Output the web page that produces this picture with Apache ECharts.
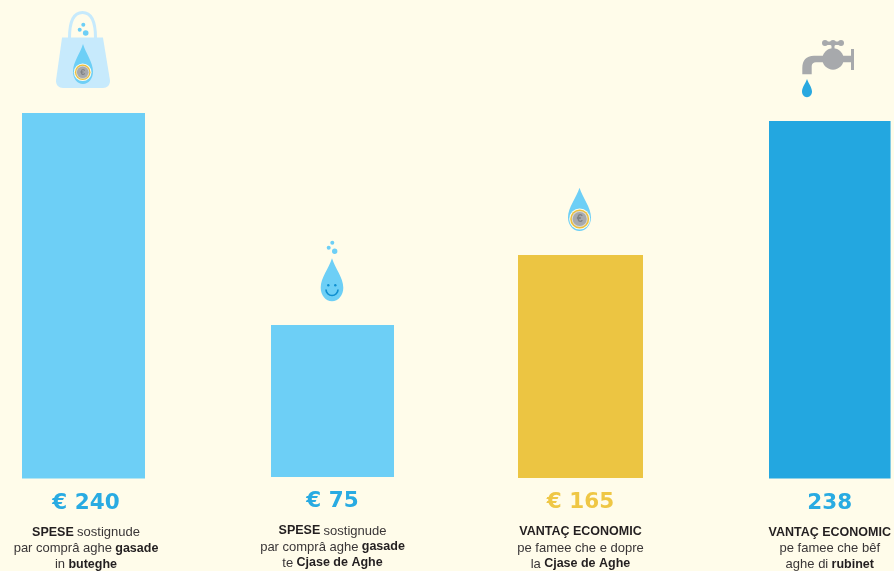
<!DOCTYPE html>
<html>
<head>
<meta charset="utf-8">
<style>
html,body{margin:0;padding:0;background:#fffcea;}
#chart{width:894px;height:571px;}
</style>
<script src="https://cdn.jsdelivr.net/npm/echarts@6/dist/echarts.min.js"></script>
</head>
<body>
<div id="chart"></div>
<script>
// printed amounts
var valueLabels=['€ 240','€ 75','€ 165','238'];
// bar lengths, they are not proportional to the printed amounts
var barLengths=[240,99.7,146.2,234.8];
var captions=[
    '{b|SPESE} {n|sostignude}\n{n|par comprâ aghe} {b|gasade}\n{n|in} {b|buteghe}',
    '{b|SPESE} {n|sostignude}\n{n|par comprâ aghe} {b|gasade}\n{n|te} {b|Cjase de Aghe}',
    '{b|VANTAÇ ECONOMIC}\n{n|pe famee che e dopre}\n{n|la} {b|Cjase de Aghe}',
    '{b|VANTAÇ ECONOMIC}\n{n|pe famee che bêf}\n{n|aghe di} {b|rubinet}'
];

var barColors=['#6dcff6','#6dcff6','#ecc542','#23a7e0'];
var valueColors=['#29abe2','#29abe2','#efc745','#29abe2'];
var panels=[
    {left:22,width:123,base:479,pad:5},
    {left:271,width:123,base:477,pad:0},
    {left:518,width:125,base:478,pad:0},
    {left:769,width:123,base:479,pad:0}
];
var yMax=250,pxPerUnit=1.525;

var grids=[],xAxes=[],yAxes=[],series=[];
panels.forEach(function(p,i){
    grids.push({left:p.left,width:p.width,top:p.base-yMax*pxPerUnit,height:yMax*pxPerUnit});
    xAxes.push({
        type:'category',gridIndex:i,data:[valueLabels[i]],
        axisLine:{show:false},axisTick:{show:false},
        axisLabel:{
            interval:0,margin:11,align:'center',verticalAlign:'top',padding:[0,0,0,p.pad],
            formatter:function(v){return '{v|'+v+'}\n{gap|}\n'+captions[i];},
            rich:{
                v:{fontFamily:'DejaVu Sans',fontWeight:'bold',fontSize:21.5,lineHeight:27,color:valueColors[i]},
                gap:{fontSize:6,lineHeight:8},
                b:{fontFamily:'Liberation Sans',fontWeight:'bold',fontSize:12.5,lineHeight:16,color:'#231f20'},
                n:{fontFamily:'Liberation Sans',fontSize:13,lineHeight:16,color:'#3a3637'}
            }
        }
    });
    yAxes.push({type:'value',gridIndex:i,min:0,max:yMax,show:false});
    series.push({
        type:'bar',xAxisIndex:i,yAxisIndex:i,data:[barLengths[i]],
        barWidth:'100%',itemStyle:{color:barColors[i]},silent:true
    });
});

var DROP='M50 0C36 38 0 72 0 110C0 138 22 160 50 160C78 160 100 138 100 110C100 72 64 38 50 0Z';
function drop(x,y,w,h,color){
    return {type:'path',shape:{pathData:DROP,layout:'cover',x:x,y:y,width:w,height:h},style:{fill:color}};
}
function dot(x,y,r,color){
    return {type:'circle',shape:{cx:x,cy:y,r:r},style:{fill:color}};
}
function coin(x,y,r){
    return [
        dot(x,y,r+1,'#fffcea'),
        dot(x,y,r,'#ecc03c'),
        dot(x,y,r*0.84,'#d9dadb'),
        dot(x,y,r*0.74,'#a7a9ac'),
        {type:'text',style:{x:x,y:y,text:'€',fill:'#808285',font:'bold '+Math.round(r*1.2)+'px "Liberation Sans"',align:'center',verticalAlign:'middle'}}
    ];
}
var icons=[
    // bag
    {type:'path',shape:{pathData:'M69.5 38C69.5 20 75 12.5 82.5 12.5C90 12.5 95.5 20 95.5 38',layout:'cover',x:69.5,y:12.5,width:26,height:25.5},style:{fill:'none',stroke:'#c7eafc',lineWidth:3}},
    {type:'path',shape:{pathData:'M62 37.5L103 37.5L110 80C110.6 85 107 88 103 88L63 88C59 88 55.4 85 56 80Z',layout:'cover',x:56,y:37.5,width:54,height:50.5},style:{fill:'#c7eafc'}},
    dot(83.3,24.7,2,'#6dcff6'),dot(79.7,29.7,2,'#6dcff6'),dot(85.7,33,2.8,'#6dcff6'),
    drop(73,44,20,40,'#6dcff6')
].concat(coin(82.7,72.3,7.8)).concat([
    // smiling drop
    dot(332.3,242.7,2,'#6dcff6'),dot(328.7,247.7,2,'#6dcff6'),dot(334.7,251.3,2.7,'#6dcff6'),
    drop(320.7,258.3,22.6,43,'#6dcff6'),
    dot(328.3,285.3,1.2,'#0f8fd0'),dot(335.3,285.3,1.2,'#0f8fd0'),
    {type:'arc',shape:{cx:332,cy:289.5,r:6,startAngle:0,endAngle:Math.PI},style:{fill:'none',stroke:'#0f8fd0',lineWidth:1.7}},
    // coin drop
    drop(568,187.7,23,43.3,'#6dcff6')
]).concat(coin(579.7,219,9.5)).concat([
    // tap
    {type:'path',shape:{pathData:'M851 55.7L814 55.7C806 56 802.5 60 802.3 68L802.3 74.3L811.7 74.3L811.7 66C812 63.5 813.5 62.3 816 62.3L851 62.3Z',layout:'cover',x:802.3,y:55.7,width:48.7,height:18.6},style:{fill:'#a7a9ac'}},
    {type:'rect',shape:{x:851,y:49,width:3,height:21},style:{fill:'#a7a9ac'}},
    dot(833,59,10.7,'#a7a9ac'),
    {type:'rect',shape:{x:831.5,y:42,width:3,height:8},style:{fill:'#a7a9ac'}},
    {type:'rect',shape:{x:823,y:41.5,width:20,height:3.5,r:1.7},style:{fill:'#a7a9ac'}},
    dot(825,43,3,'#a7a9ac'),dot(833,43,3,'#a7a9ac'),dot(841,43,3,'#a7a9ac'),
    drop(802,79,10,18.3,'#29a8e0')
]);

// the graphic component has no path type, so the pictograms go in a custom series
series.push({
    type:'custom',coordinateSystem:'none',data:[0],silent:true,
    renderItem:function(){return {type:'group',children:icons};}
});

var chart=echarts.init(document.getElementById('chart'));
chart.setOption({
    backgroundColor:'#fffcea',
    animation:false,
    tooltip:{show:false},
    grid:grids,
    xAxis:xAxes,
    yAxis:yAxes,
    series:series
});
</script>
</body>
</html>
